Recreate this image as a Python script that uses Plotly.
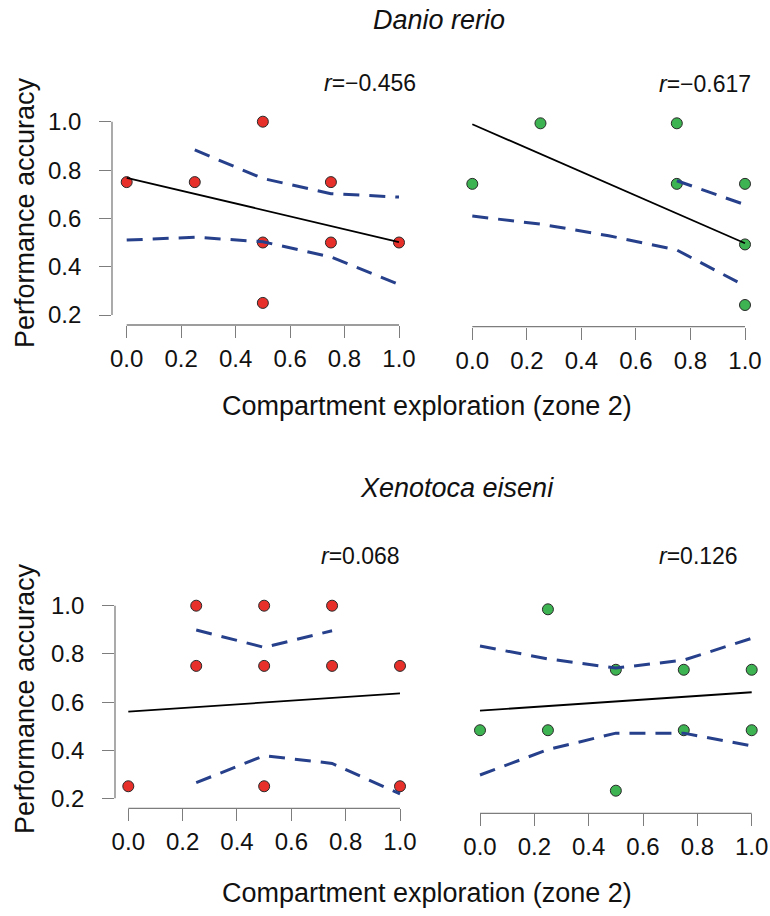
import plotly.graph_objects as go

# ---------------- data ----------------
x_levels = [0.0, 0.25, 0.5, 0.75, 1.0]
tick_vals = [0.0, 0.2, 0.4, 0.6, 0.8, 1.0]
tick_text = ["0.0", "0.2", "0.4", "0.6", "0.8", "1.0"]
ytick_vals = [0.2, 0.4, 0.6, 0.8, 1.0]
ytick_text = ["0.2", "0.4", "0.6", "0.8", "1.0"]

# Danio rerio - red group
dr_red_x = [0.0, 0.25, 0.5, 0.5, 0.5, 0.75, 0.75, 1.0]
dr_red_y = [0.75, 0.75, 1.0, 0.5, 0.25, 0.75, 0.5, 0.5]
dr_red_fit_x = [0.0, 1.0]
dr_red_fit_y = [0.768, 0.502]
dr_red_up_x = [0.25, 0.5, 0.75, 1.0]
dr_red_up_y = [0.883, 0.765, 0.702, 0.688]
dr_red_lo_x = [0.0, 0.25, 0.5, 0.75, 1.0]
dr_red_lo_y = [0.510, 0.522, 0.503, 0.440, 0.326]
dr_red_r = "−0.456"

# Danio rerio - green group
dr_grn_x = [0.0, 0.25, 0.75, 0.75, 1.0, 1.0, 1.0]
dr_grn_y = [0.75, 1.0, 1.0, 0.75, 0.75, 0.5, 0.25]
dr_grn_fit_x = [0.0, 1.0]
dr_grn_fit_y = [0.996, 0.505]
dr_grn_up_x = [0.75, 1.0]
dr_grn_up_y = [0.763, 0.664]
dr_grn_lo_x = [0.0, 0.25, 0.5, 0.75, 1.0]
dr_grn_lo_y = [0.617, 0.584, 0.536, 0.477, 0.329]
dr_grn_r = "−0.617"

# Xenotoca eiseni - red group
xe_red_x = [0.0, 0.25, 0.25, 0.5, 0.5, 0.5, 0.75, 0.75, 1.0, 1.0]
xe_red_y = [0.25, 1.0, 0.75, 1.0, 0.75, 0.25, 1.0, 0.75, 0.75, 0.25]
xe_red_fit_x = [0.0, 1.0]
xe_red_fit_y = [0.560, 0.636]
xe_red_up_x = [0.25, 0.5, 0.75]
xe_red_up_y = [0.899, 0.827, 0.896]
xe_red_lo_x = [0.25, 0.5, 0.75, 1.0]
xe_red_lo_y = [0.265, 0.377, 0.345, 0.218]
xe_red_r = "0.068"

# Xenotoca eiseni - green group
xe_grn_x = [0.0, 0.25, 0.25, 0.5, 0.5, 0.75, 0.75, 1.0, 1.0]
xe_grn_y = [0.5, 1.0, 0.5, 0.75, 0.25, 0.75, 0.5, 0.75, 0.5]
xe_grn_fit_x = [0.0, 1.0]
xe_grn_fit_y = [0.581, 0.657]
xe_grn_up_x = x_levels
xe_grn_up_y = [0.848, 0.795, 0.757, 0.790, 0.880]
xe_grn_lo_x = x_levels
xe_grn_lo_y = [0.315, 0.420, 0.488, 0.488, 0.435]
xe_grn_r = "0.126"

species = ["Danio rerio", "Xenotoca eiseni"]
x_title = "Compartment exploration (zone 2)"
y_title = "Performance accuracy"

# ---------------- styling / layout ----------------
W, H = 770, 916
FONT = "Liberation Sans, Arial, Helvetica, sans-serif"
RED = "#E8302A"
GREEN = "#3DB351"
CI_COL = "#27408B"
AXIS_COL = "#7d7d7d"
YLAB_GAP = 30  # px between y axis line and right edge of y tick labels

# pixel geometry per panel: plot-region edges + two reference points per axis
panels = [
    dict(name="dr_red", left=112, right=410, top=112, bottom=325,
         x0p=126.7, x1p=399.0, ya=(1.0, 121.7), yb=(0.2, 315.0), yaxis=True,
         r_pos=(370, 83)),
    dict(name="dr_grn", left=461, right=756, top=112, bottom=326.7,
         x0p=472.3, x1p=745.0, ya=(1.0, 123.3), yb=(0.25, 305.0), yaxis=False,
         r_pos=(704.5, 84)),
    dict(name="xe_red", left=115, right=411, top=595, bottom=808.3,
         x0p=128.3, x1p=400.0, ya=(1.0, 605.7), yb=(0.2, 798.3), yaxis=True,
         r_pos=(360.7, 556)),
    dict(name="xe_grn", left=469, right=763, top=595, bottom=813.3,
         x0p=480.0, x1p=751.7, ya=(1.0, 609.3), yb=(0.25, 790.7), yaxis=False,
         r_pos=(698.7, 556)),
]

series = {
    "dr_red": (dr_red_x, dr_red_y, dr_red_fit_x, dr_red_fit_y, dr_red_up_x, dr_red_up_y,
               dr_red_lo_x, dr_red_lo_y, dr_red_r, RED),
    "dr_grn": (dr_grn_x, dr_grn_y, dr_grn_fit_x, dr_grn_fit_y, dr_grn_up_x, dr_grn_up_y,
               dr_grn_lo_x, dr_grn_lo_y, dr_grn_r, GREEN),
    "xe_red": (xe_red_x, xe_red_y, xe_red_fit_x, xe_red_fit_y, xe_red_up_x, xe_red_up_y,
               xe_red_lo_x, xe_red_lo_y, xe_red_r, RED),
    "xe_grn": (xe_grn_x, xe_grn_y, xe_grn_fit_x, xe_grn_fit_y, xe_grn_up_x, xe_grn_up_y,
               xe_grn_lo_x, xe_grn_lo_y, xe_grn_r, GREEN),
}

fig = go.Figure()
layout = {}
shapes = []
annotations = []

for i, p in enumerate(panels):
    k = "" if i == 0 else str(i + 1)
    xa, ya_ = "x" + k, "y" + k
    # ranges from pixel geometry
    ppx = p["x1p"] - p["x0p"]
    xr = [(p["left"] - p["x0p"]) / ppx, (p["right"] - p["x0p"]) / ppx]
    (va, pa), (vb, pb) = p["ya"], p["yb"]
    ppy = (pb - pa) / (va - vb)  # pixels per unit (downwards)
    yr = [va - (p["bottom"] - pa) / ppy, va + (pa - p["top"]) / ppy]

    layout["xaxis" + k] = dict(
        domain=[p["left"] / W, p["right"] / W], range=xr, anchor=ya_,
        showgrid=False, zeroline=False, showline=False, automargin=False,
        ticks="outside", ticklen=12, tickwidth=1.3, tickcolor=AXIS_COL,
        tickvals=tick_vals, ticktext=tick_text,
        tickfont=dict(family=FONT, size=24, color="#111"),
    )
    layout["yaxis" + k] = dict(
        domain=[1 - p["bottom"] / H, 1 - p["top"] / H], range=yr, anchor=xa,
        showgrid=False, zeroline=False, showline=False, automargin=False,
        ticks="outside" if p["yaxis"] else "", ticklen=12, tickwidth=1.3,
        tickcolor=AXIS_COL, showticklabels=False,
        tickvals=ytick_vals if p["yaxis"] else [],
    )
    # R-style axis lines spanning only the tick range
    shapes.append(dict(type="line", xref=xa, yref=ya_ + " domain",
                       x0=tick_vals[0], x1=tick_vals[-1], y0=0, y1=0,
                       line=dict(color=AXIS_COL, width=1.3)))
    if p["yaxis"]:
        shapes.append(dict(type="line", xref=xa + " domain", yref=ya_,
                           x0=0, x1=0, y0=ytick_vals[0], y1=ytick_vals[-1],
                           line=dict(color=AXIS_COL, width=1.3)))
        # y tick labels (R style, farther from the ticks)
        for v, t in zip(ytick_vals, ytick_text):
            annotations.append(dict(text=t, xref="paper", yref=ya_,
                                    x=(p["left"] - YLAB_GAP) / W, y=v,
                                    xanchor="right", yanchor="middle", showarrow=False,
                                    borderpad=0,
                                    font=dict(family=FONT, size=24, color="#111")))

    px_, py_, fx, fy, ux, uy, lx, ly, rtxt, col = series[p["name"]]
    fig.add_trace(go.Scatter(x=px_, y=py_, mode="markers", xaxis=xa, yaxis=ya_,
                             marker=dict(size=11, color=col,
                                         line=dict(color="#2a2a2a", width=1)),
                             showlegend=False, hoverinfo="skip"))
    for cx, cy in ((ux, uy), (lx, ly)):
        fig.add_trace(go.Scatter(x=cx, y=cy, mode="lines", xaxis=xa, yaxis=ya_,
                                 line=dict(color=CI_COL, width=3, dash="16px,10px"),
                                 showlegend=False, hoverinfo="skip"))
    fig.add_trace(go.Scatter(x=fx, y=fy, mode="lines", xaxis=xa, yaxis=ya_,
                             line=dict(color="black", width=1.8),
                             showlegend=False, hoverinfo="skip"))
    annotations.append(dict(text="<i>r</i>=" + rtxt, xref="paper", yref="paper",
                            x=p["r_pos"][0] / W, y=1 - p["r_pos"][1] / H,
                            xanchor="center", yanchor="middle", showarrow=False,
                            font=dict(family=FONT, size=23, color="#111")))

# species titles
for txt, (cx, cy) in zip(species, [(438.5, 20), (456.7, 488)]):
    annotations.append(dict(text="<i>" + txt + "</i>", xref="paper", yref="paper",
                            x=cx / W, y=1 - cy / H, xanchor="center", yanchor="middle",
                            showarrow=False, font=dict(family=FONT, size=27, color="#111")))
# axis titles
for cy in (406, 893):
    annotations.append(dict(text=x_title, xref="paper", yref="paper",
                            x=427 / W, y=1 - cy / H, xanchor="center", yanchor="middle",
                            showarrow=False, font=dict(family=FONT, size=27, color="#111")))
for cy in (213, 699):
    annotations.append(dict(text=y_title, xref="paper", yref="paper", textangle=-90,
                            x=25 / W, y=1 - cy / H, xanchor="center", yanchor="middle",
                            showarrow=False, font=dict(family=FONT, size=27, color="#111")))

fig.update_layout(width=W, height=H, margin=dict(l=0, r=0, t=0, b=0),
                  paper_bgcolor="white", plot_bgcolor="white",
                  shapes=shapes, annotations=annotations, **layout)
fig.write_html("out.html")
